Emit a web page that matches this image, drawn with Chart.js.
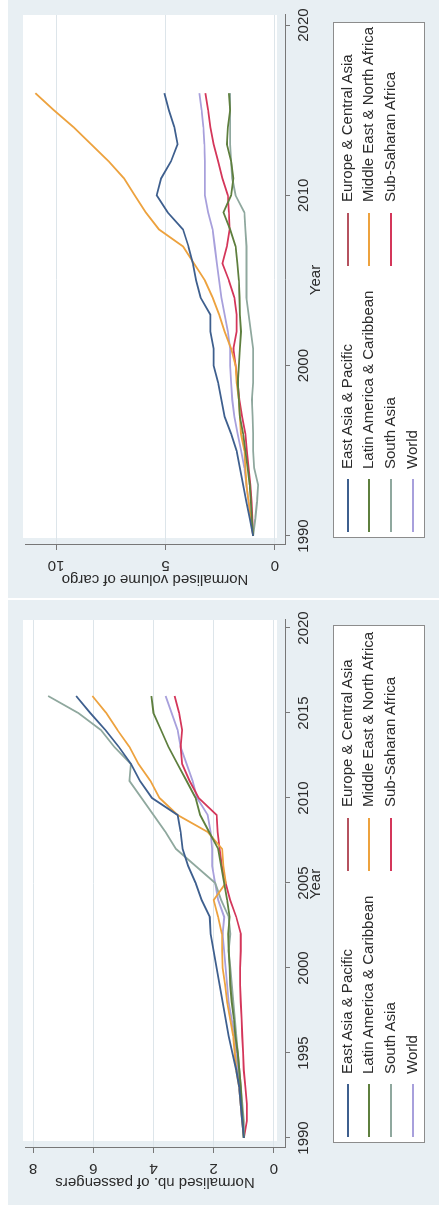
<!DOCTYPE html>
<html>
<head>
<meta charset="utf-8">
<script src="https://cdn.jsdelivr.net/npm/chart.js@4.4.0/dist/chart.umd.min.js"></script>
<style>
body { margin: 0; background: #fff; width: 439px; height: 1205px; overflow: hidden; font-family: "Liberation Sans", Arial, sans-serif; }
.panel { position: absolute; left: 8px; width: 431px; background: #e8eff3; overflow: hidden; }
.inner { position: absolute; left: 0; top: 0; transform-origin: 0 0; }
.legend { position: absolute; top: 325px; height: 92px; background: #fff; border: 1px solid #8c8c8c; box-sizing: border-box; }
.item { position: absolute; height: 18px; line-height: 18px; font-size: 15px; color: #2b2b2b; white-space: nowrap; }
.sym { position: absolute; top: 8px; height: 2px; }
</style>
</head>
<body>
<div class="panel" style="top:0;height:598px">
  <div class="inner" style="width:598px;height:431px;transform:translate(0,598px) rotate(-90deg)">
    <canvas id="cargo" width="598" height="431"></canvas>
    <div class="legend" id="legCargo" style="left:60px;width:516px"></div>
  </div>
</div>
<div class="panel" style="top:600px;height:605px">
  <div class="inner" style="width:605px;height:431px;transform:translate(0,605px) rotate(-90deg)">
    <canvas id="pax" width="605" height="431"></canvas>
    <div class="legend" id="legPax" style="left:62px;width:518px"></div>
  </div>
</div>
<script>
// data (normalised, 1990 = 1)
const years = [1990, 1991, 1992, 1993, 1994, 1995, 1996, 1997, 1998, 1999, 2000, 2001, 2002, 2003,
  2004, 2005, 2006, 2007, 2008, 2009, 2010, 2011, 2012, 2013, 2014, 2015, 2016];

const regions = ['East Asia & Pacific', 'Europe & Central Asia', 'Latin America & Caribbean',
  'Middle East & North Africa', 'South Asia', 'Sub-Saharan Africa', 'World'];
const colors = ['#3e5f8e', '#b5525f', '#5e7f3e', '#eda23e', '#8fa89e', '#d4365a', '#a8a0dc'];

// cargo
const eapCargo = [1.0, 1.15, 1.3, 1.45, 1.6, 1.75, 2.0, 2.3, 2.45, 2.6, 2.8, 2.8, 2.95, 2.95, 3.4, 3.6, 3.75, 3.95, 4.2, 4.9, 5.4, 5.2, 4.75, 4.45, 4.6, 4.85, 5.05];
const ecaCargo = [];
const lacCargo = [1.0, 1.05, 1.1, 1.15, 1.25, 1.35, 1.45, 1.6, 1.65, 1.7, 1.65, 1.6, 1.55, 1.6, 1.62, 1.65, 1.72, 1.8, 2.05, 2.35, 2.0, 1.9, 2.0, 2.2, 2.15, 2.05, 2.1];
const menaCargo = [1.0, 1.1, 1.2, 1.3, 1.35, 1.4, 1.55, 1.6, 1.65, 1.75, 1.8, 2.0, 2.3, 2.55, 2.85, 3.2, 3.7, 4.2, 5.3, 5.9, 6.4, 6.9, 7.6, 8.4, 9.2, 10.1, 10.95];
const saCargo = [1.0, 0.9, 0.82, 0.77, 0.95, 1.0, 1.0, 1.02, 1.05, 1.0, 1.0, 1.0, 1.1, 1.2, 1.3, 1.3, 1.3, 1.3, 1.35, 1.4, 1.8, 1.95, 2.0, 2.05, 2.05, 2.05, 2.05];
const ssaCargo = [1.0, 1.03, 1.07, 1.12, 1.2, 1.28, 1.35, 1.5, 1.62, 1.7, 1.8, 1.9, 1.75, 1.75, 1.85, 2.1, 2.4, 2.2, 2.07, 2.1, 2.15, 2.4, 2.6, 2.8, 2.95, 3.05, 3.18];
const wldCargo = [1.0, 1.1, 1.2, 1.3, 1.4, 1.55, 1.7, 1.85, 1.95, 2.0, 2.05, 2.05, 2.15, 2.3, 2.45, 2.55, 2.65, 2.75, 2.85, 3.05, 3.2, 3.2, 3.2, 3.22, 3.27, 3.35, 3.45];

// passengers
const eapPax = [1.0, 1.05, 1.1, 1.15, 1.25, 1.38, 1.5, 1.6, 1.7, 1.8, 1.9, 2.0, 2.1, 2.13, 2.4, 2.6, 2.85, 3.03, 3.1, 3.2, 4.05, 4.45, 4.75, 5.15, 5.6, 6.1, 6.57];
const ecaPax = [];
const lacPax = [1.0, 1.03, 1.07, 1.1, 1.15, 1.2, 1.28, 1.33, 1.4, 1.45, 1.47, 1.5, 1.52, 1.47, 1.55, 1.65, 1.75, 1.85, 2.15, 2.45, 2.6, 2.9, 3.2, 3.5, 3.75, 4.0, 4.07];
const menaPax = [1.0, 1.05, 1.1, 1.15, 1.25, 1.3, 1.35, 1.45, 1.55, 1.62, 1.7, 1.72, 1.73, 1.85, 2.0, 1.6, 1.68, 1.72, 2.2, 3.2, 3.8, 4.1, 4.5, 4.8, 5.2, 5.57, 6.03];
const saPax = [1.0, 1.0, 1.05, 1.1, 1.15, 1.2, 1.25, 1.3, 1.35, 1.4, 1.45, 1.5, 1.45, 1.5, 1.75, 1.95, 2.6, 3.25, 3.6, 4.0, 4.4, 4.8, 4.75, 5.3, 5.75, 6.5, 7.5];
const ssaPax = [1.0, 0.9, 0.9, 0.95, 1.0, 1.02, 1.05, 1.07, 1.1, 1.12, 1.12, 1.1, 1.1, 1.25, 1.45, 1.6, 1.73, 1.8, 1.87, 1.9, 2.5, 2.8, 3.05, 3.1, 3.05, 3.15, 3.3];
const wldPax = [1.0, 1.05, 1.1, 1.15, 1.2, 1.25, 1.3, 1.4, 1.5, 1.55, 1.6, 1.65, 1.7, 1.65, 1.85, 1.95, 2.05, 2.05, 2.1, 2.2, 2.55, 2.7, 2.9, 3.1, 3.2, 3.4, 3.6];

const cargoYearTicks = [1990, 2000, 2010, 2020];
const cargoValueTicks = [0, 5, 10];
const paxYearTicks = [1990, 1995, 2000, 2005, 2010, 2015, 2020];
const paxValueTicks = [0, 2, 4, 6, 8];

Chart.defaults.font.family = '"Liberation Sans", Arial, sans-serif';
Chart.defaults.font.size = 15;
Chart.defaults.color = '#2b2b2b';

// light graph region + white plot region (Stata look)
const plotBg = {
  id: 'plotBg',
  beforeDraw(chart) {
    const { ctx, chartArea: a } = chart;
    ctx.save();
    ctx.fillStyle = '#e8eff3';
    ctx.fillRect(0, 0, chart.width, chart.height);
    ctx.fillStyle = '#fff';
    ctx.fillRect(a.left + 7, a.top - 2, a.right - a.left - 7, a.bottom - a.top - 6);
    ctx.restore();
  }
};

// value labels stand vertical in Stata, chart.js can't rotate y ticks
const sideLabels = {
  id: 'sideLabels',
  afterDraw(chart, args, opts) {
    const s = chart.scales.y;
    const ctx = chart.ctx;
    ctx.save();
    ctx.font = '15px "Liberation Sans", Arial, sans-serif';
    ctx.fillStyle = '#2b2b2b';
    ctx.textAlign = 'center';
    ctx.textBaseline = 'middle';
    s.ticks.forEach(t => {
      ctx.save();
      ctx.translate(opts.x, s.getPixelForValue(t.value));
      ctx.rotate(-Math.PI / 2);
      ctx.fillText(String(t.value), 0, 0);
      ctx.restore();
    });
    ctx.restore();
  }
};

function makeChart(id, series, cfg) {
  const datasets = series.map((vals, i) => ({
    label: regions[i],
    data: vals.map((v, j) => ({ x: years[j], y: v })),
    borderColor: colors[i],
    backgroundColor: colors[i],
    borderWidth: 1.8,
    pointRadius: 0,
    tension: 0,
    fill: false
  }));
  return new Chart(document.getElementById(id), {
    type: 'line',
    data: { datasets: datasets },
    plugins: [plotBg, sideLabels],
    options: {
      responsive: false,
      animation: false,
      layout: { padding: { left: 0, right: cfg.padRight, top: 17, bottom: 114 } },
      plugins: {
        legend: { display: false },
        tooltip: { enabled: false },
        sideLabels: { x: cfg.labelX }
      },
      scales: {
        x: {
          type: 'linear',
          min: cfg.xMin, max: cfg.xMax,
          afterBuildTicks: s => { s.ticks = cfg.xTicks.map(v => ({ value: v })); },
          afterFit: s => { s.height = 40; },
          ticks: { padding: 5, callback: v => String(v), maxRotation: 0 },
          grid: { drawOnChartArea: false, tickLength: 5, color: '#777' },
          border: { color: '#777' },
          title: { display: true, text: 'Year', padding: { top: 0, bottom: 0 } }
        },
        y: {
          type: 'linear',
          min: cfg.yMin, max: cfg.yMax,
          afterBuildTicks: s => { s.ticks = cfg.yTicks.map(v => ({ value: v })); },
          afterFit: s => { s.width = cfg.yWidth; },
          ticks: { display: false },
          grid: { color: '#dde5ea', tickColor: '#777', tickLength: 5 },
          border: { color: '#777' },
          title: { display: true, text: cfg.yTitle, padding: { top: cfg.titlePad, bottom: 0 } }
        }
      }
    }
  });
}

function makeLegend(id) {
  const box = document.getElementById(id);
  const rowsY = [14, 35, 57, 79];
  regions.forEach((name, i) => {
    const row = Math.floor(i / 2), col = i % 2;
    const sym = document.createElement('div');
    sym.className = 'sym';
    sym.style.background = colors[i];
    sym.style.left = (col ? 271 : 5) + 'px';
    sym.style.width = '53px';
    sym.style.top = (rowsY[row] - 1) + 'px';
    box.appendChild(sym);
    const txt = document.createElement('div');
    txt.className = 'item';
    txt.textContent = name;
    txt.style.left = (col ? 335 : 68) + 'px';
    txt.style.top = (rowsY[row] - 10) + 'px';
    box.appendChild(txt);
  });
}

makeChart('cargo', [eapCargo, ecaCargo, lacCargo, menaCargo, saCargo, ssaCargo, wldCargo], {
  xMin: 1989.47, xMax: 2020.59, yMin: -0.46, yMax: 11.42,
  xTicks: cargoYearTicks, yTicks: cargoValueTicks,
  padRight: 15, yWidth: 53, labelX: 33,
  yTitle: 'Normalised volume of cargo', titlePad: 10
});
makeChart('pax', [eapPax, ecaPax, lacPax, menaPax, saPax, ssaPax, wldPax], {
  xMin: 1989.41, xMax: 2020.47, yMin: -0.37, yMax: 8.27,
  xTicks: paxYearTicks, yTicks: paxValueTicks,
  padRight: 20, yWidth: 57, labelX: 37,
  yTitle: 'Normalised nb. of passengers', titlePad: 14
});
makeLegend('legCargo');
makeLegend('legPax');
</script>
</body>
</html>
